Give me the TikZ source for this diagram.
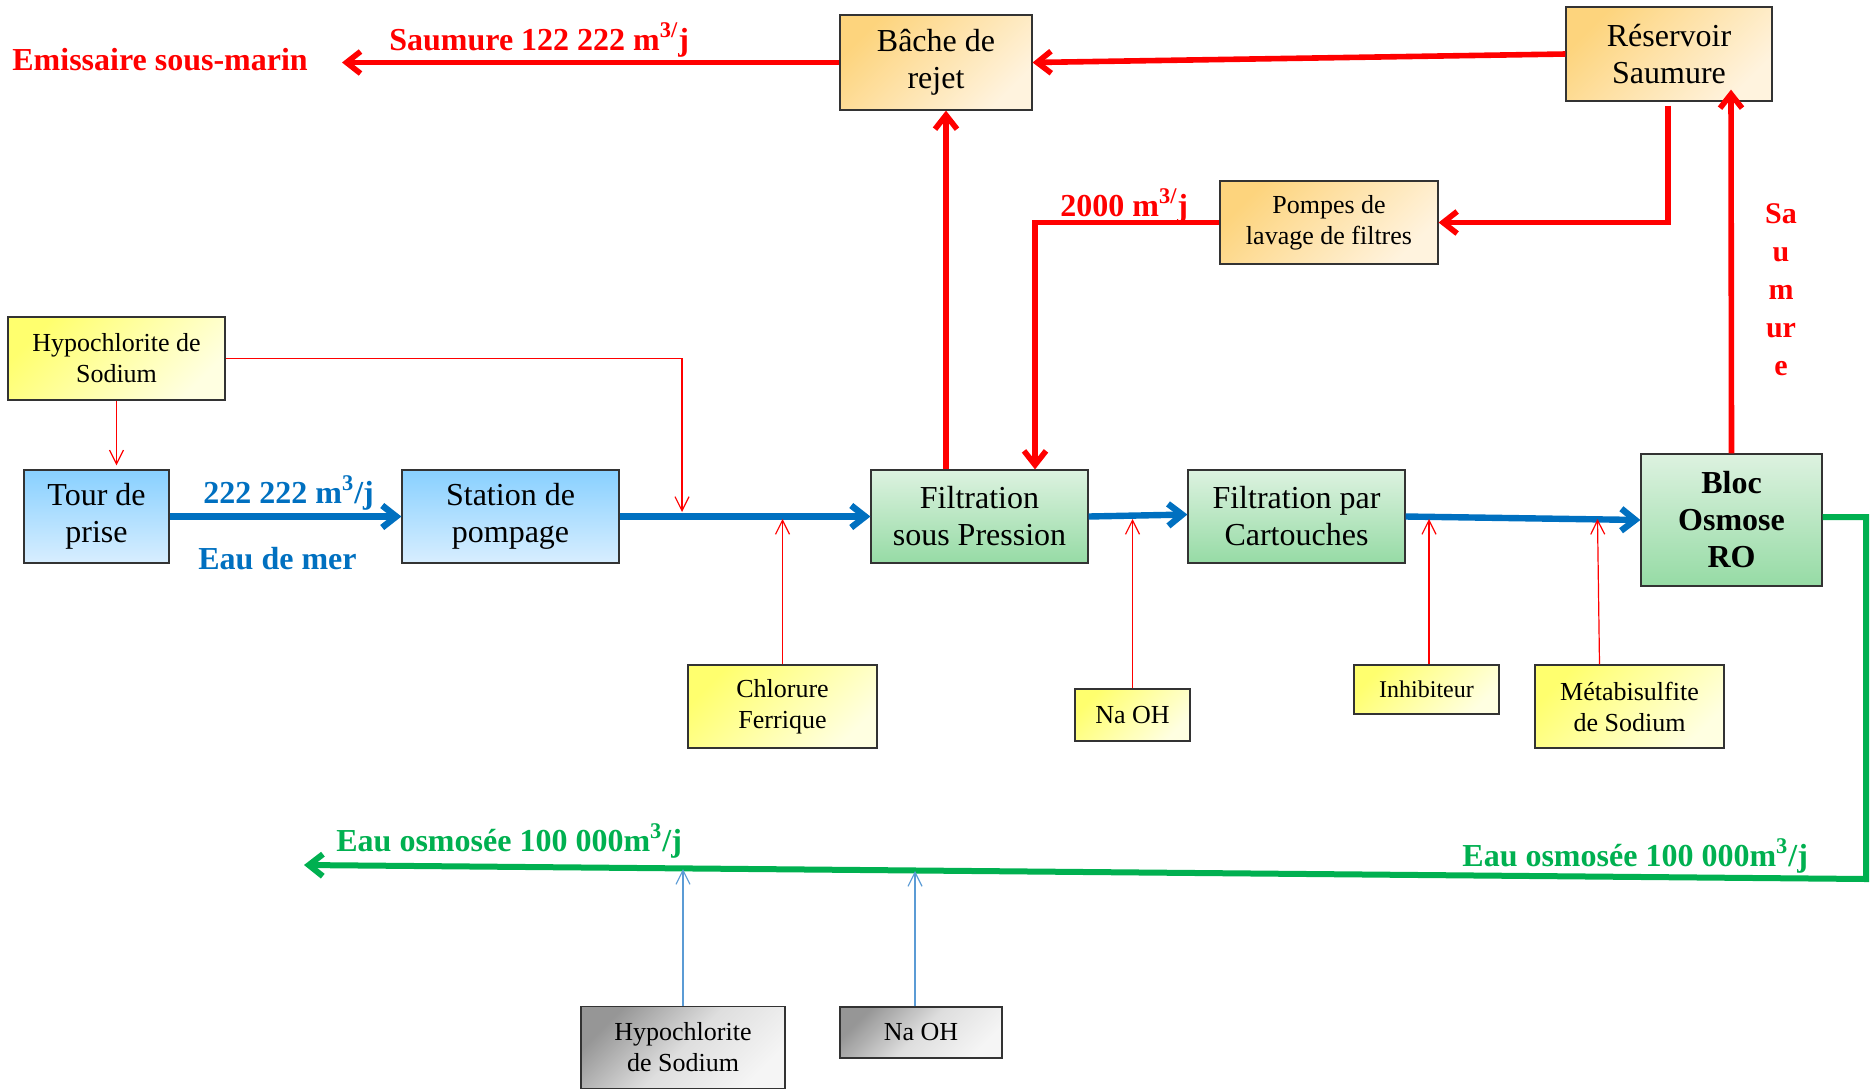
\documentclass[tikz,border=0pt]{standalone}
\usepackage{fontspec}
\setmainfont{Liberation Serif}
\usetikzlibrary{arrows.meta,calc}
\definecolor{rred}{RGB}{255,0,0}
\definecolor{wblue}{RGB}{0,112,192}
\definecolor{wgreen}{RGB}{0,176,80}
\definecolor{tblue}{RGB}{91,155,213}
\definecolor{bluetop}{RGB}{136,208,255}
\definecolor{bluebot}{RGB}{216,238,255}
\definecolor{greentop}{RGB}{221,242,224}
\definecolor{greenbot}{RGB}{150,219,165}
\definecolor{orangetop}{RGB}{253,212,125}
\definecolor{orangebot}{RGB}{255,243,222}
\definecolor{yellowtop}{RGB}{255,255,110}
\definecolor{yellowbot}{RGB}{255,255,225}
\definecolor{graytop}{RGB}{150,150,150}
\definecolor{graymid}{RGB}{222,222,222}
\definecolor{graybot}{RGB}{245,245,245}
\begin{document}
\begin{tikzpicture}[x=0.5pt,y=-0.5pt,
  box/.style={draw=black!80, line width=0.6pt, align=center, inner sep=0pt, text=black},
  bigtxt/.style={font=\fontsize{16}{18.5}\selectfont},
  smalltxt/.style={font=\fontsize{13}{15.5}\selectfont},
  bluebox/.style={box, bigtxt, top color=bluetop, bottom color=bluebot},
  greenbox/.style={box, bigtxt, top color=greentop, bottom color=greenbot},
  orangebox/.style={box, top color=orangetop, bottom color=orangebot, shading angle=45},
  yellowbox/.style={box, smalltxt, top color=yellowtop, bottom color=yellowbot, shading angle=45},
  graybox/.style={box, smalltxt, top color=graytop, bottom color=graybot, middle color=graymid, shading angle=45},
  lab/.style={font=\fontsize{16}{19}\selectfont\bfseries, inner sep=0pt},
  rarrow/.style={draw=rred, line width=2.8pt, -{Straight Barb[length=7pt,width=11pt]}},
  barrow/.style={draw=wblue, line width=3.2pt, -{Straight Barb[length=7pt,width=11pt]}},
  garrow/.style={draw=wgreen, line width=3pt, line join=miter, -{Straight Barb[length=7pt,width=11pt]}},
  tarrow/.style={draw=rred, line width=0.6pt, -{Straight Barb[length=7pt,width=7pt]}},
  tbarrow/.style={draw=tblue, line width=0.6pt, -{Straight Barb[length=7pt,width=7pt]}}
]
\useasboundingbox (0,0) rectangle (1870,1089);

% boxes
\node[orangebox, bigtxt, minimum width=96pt, minimum height=47.5pt] (bache) at (936,62.5) {Bâche de\\rejet};
\node[orangebox, bigtxt, minimum width=103pt, minimum height=47pt] (reserv) at (1669,54) {Réservoir\\Saumure};
\node[orangebox, smalltxt, minimum width=109pt, minimum height=41.5pt] (pompes) at (1329,222.5) {Pompes de\\lavage de filtres};
\node[yellowbox, minimum width=108.5pt, minimum height=41.5pt] (hypo1) at (116.5,358.5) {Hypochlorite de\\Sodium};
\node[bluebox, minimum width=72.5pt, minimum height=46.5pt] (tour) at (96.5,516.5) {Tour de\\prise};
\node[bluebox, minimum width=108.5pt, minimum height=46.5pt] (station) at (510.5,516.5) {Station de\\pompage};
\node[greenbox, minimum width=108.5pt, minimum height=46.5pt] (filtp) at (979.5,516.5) {Filtration\\sous Pression};
\node[greenbox, minimum width=108.5pt, minimum height=46.5pt] (filtc) at (1296.5,516.5) {Filtration par\\Cartouches};
\node[greenbox, font=\fontsize{16}{18.5}\selectfont\bfseries, minimum width=90.5pt, minimum height=66pt] (bloc) at (1731.5,520) {Bloc\\Osmose\\RO};
\node[yellowbox, minimum width=94.5pt, minimum height=41.5pt] (chlor) at (782.5,706.5) {Chlorure\\Ferrique};
\node[yellowbox, minimum width=57.5pt, minimum height=26pt] (naoh1) at (1132.5,715) {Na OH};
\node[yellowbox, font=\fontsize{12}{14}\selectfont, minimum width=72.5pt, minimum height=24.5pt] (inhib) at (1426.5,689.5) {Inhibiteur};
\node[yellowbox, minimum width=94.5pt, minimum height=41.5pt] (metab) at (1629.5,706.5) {Métabisulfite\\de Sodium};
\node[graybox, minimum width=102pt, minimum height=41pt] (hypo2) at (683,1047.5) {Hypochlorite\\de Sodium};
\node[graybox, minimum width=81pt, minimum height=25.5pt] (naoh2) at (921,1032.5) {Na OH};

% free ends
\coordinate (emis) at (342,62.5);
\coordinate (h1end) at (682,512);
\coordinate (bl) at (0,519);
\coordinate (gc1) at (1866,517);
\coordinate (gc2) at (1866,879);
\coordinate (gend) at (304,865);
\coordinate (gl1) at (0,869);
\coordinate (gl2) at (0,871);

% thick red
\draw[rarrow] (bache.west) -- (emis);
\draw[rarrow] (reserv.west) -- (bache.east);
\draw[rarrow] ($(reserv.south)+(-1,4)$) |- (pompes.east);
\draw[rarrow] (pompes.west) -| ($(filtp.north)+(55.5,0)$);
\draw[rarrow] ($(filtp.north)+(-33.5,0)$) -- ($(bache.south)+(10,0)$);
\draw[rarrow] (bloc.north) -- ($(reserv.south)+(62,-12)$);

% thick blue
\draw[barrow] (tour.east) -- (station.west);
\draw[barrow] (station.east) -- (filtp.west);
\draw[barrow] (filtp.east) -- ($(filtc.west)+(0,-2)$);
\draw[barrow] (filtc.east) -- (bloc.west);

% green
\draw[garrow] ($(bloc.east)+(0,-3)$) -- (gc1) -- (gc2) -- (gend);

% thin red
\draw[tarrow] (hypo1.south) -- ($(hypo1.south |- tour.north)+(0,-4)$);
\draw[tarrow] (hypo1.east) -| (h1end);
\draw[tarrow] (chlor.north) -- (chlor.north |- bl);
\draw[tarrow] (naoh1.north) -- (naoh1.north |- bl);
\draw[tarrow] ($(inhib.north)+(2.5,0)$) -- ($(inhib.north |- bl)+(2.5,0)$);
\draw[tarrow] ($(metab.north)+(-30,0)$) -- ($(metab.north |- bl)+(-32,0)$);

% thin blue
\draw[tbarrow] (hypo2.north) -- (hypo2.north |- gl1);
\draw[tbarrow] ($(naoh2.north)+(-6,0)$) -- ($(naoh2.north |- gl2)+(-6,0)$);

% labels
\node[lab, text=rred, anchor=west] (emislab) at (12,60) {Emissaire sous-marin};
\node[lab, text=rred, anchor=west] (saumlab) at (389,40) {Saumure 122 222 m\textsuperscript{3/}j};
\node[lab, text=rred, anchor=west] (lab2000) at (1060,206) {2000 m\textsuperscript{3/}j};
\node[lab, text=rred, align=center, font=\fontsize{15}{19}\selectfont\bfseries] (saumvert) at (1781,290) {Sa\\u\\m\\ur\\e};
\node[lab, text=wblue, anchor=west] (debit) at (203,493) {222 222 m\textsuperscript{3}/j};
\node[lab, text=wblue, anchor=west] (eaumer) at (198,559) {Eau de mer};
\node[lab, text=wgreen, anchor=west] (osm1) at (336,841) {Eau osmosée 100 000m\textsuperscript{3}/j};
\node[lab, text=wgreen, anchor=west] (osm2) at (1462,856) {Eau osmosée 100 000m\textsuperscript{3}/j};
\end{tikzpicture}
\end{document}
